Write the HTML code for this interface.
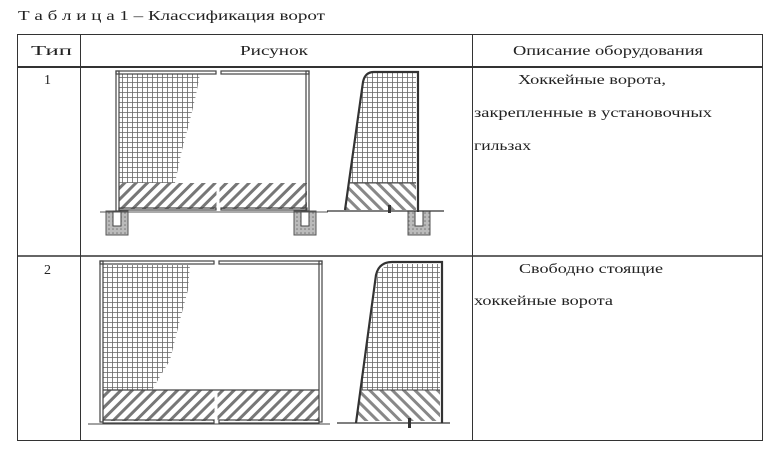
<!DOCTYPE html>
<html><head><meta charset="utf-8"><style>
html,body{margin:0;padding:0;background:#fff;width:773px;height:449px;overflow:hidden}
svg{display:block}
text{font-family:"Liberation Serif","Noto Serif CJK SC",serif;font-size:14px;fill:#222}
</style></head><body>
<svg width="773" height="449" viewBox="0 0 773 449" xmlns="http://www.w3.org/2000/svg">
<defs>
<pattern id="grid" width="5" height="5" patternUnits="userSpaceOnUse">
<rect width="5" height="5" fill="#fff"/>
<path d="M0 2.5H5M2.5 0V5" stroke="#666" stroke-width="0.8"/>
</pattern>
<pattern id="hatch" width="8" height="8" patternUnits="userSpaceOnUse" patternTransform="rotate(45)">
<rect width="8" height="8" fill="#fff"/>
<rect width="3" height="8" fill="#777"/>
</pattern>
<pattern id="hatch2" width="8" height="8" patternUnits="userSpaceOnUse" patternTransform="rotate(-45)">
<rect width="8" height="8" fill="#fff"/>
<rect width="3" height="8" fill="#888"/>
</pattern>
<pattern id="soil" width="4" height="4" patternUnits="userSpaceOnUse">
<rect width="4" height="4" fill="#bbb"/><circle cx="1" cy="1" r="0.8" fill="#777"/>
</pattern>
</defs>
<text x="18" y="20" textLength="307" lengthAdjust="spacingAndGlyphs">Т а б л и ц а  1 – Классификация ворот</text>
<!-- table -->
<g stroke="#333" fill="none">
<rect x="17.5" y="34.5" width="745" height="406" stroke-width="1"/>
<line x1="17" y1="67" x2="763" y2="67" stroke-width="2"/>
<line x1="17" y1="256" x2="763" y2="256" stroke-width="1.5"/>
<line x1="80.5" y1="34" x2="80.5" y2="441"/>
<line x1="472.5" y1="34" x2="472.5" y2="441"/>
</g>
<text x="31" y="55" textLength="41" lengthAdjust="spacingAndGlyphs">Тип</text>
<text x="240" y="55" textLength="68" lengthAdjust="spacingAndGlyphs">Рисунок</text>
<text x="513" y="55" textLength="190" lengthAdjust="spacingAndGlyphs">Описание оборудования</text>
<text x="44" y="84">1</text>
<text x="44" y="274">2</text>
<text x="518" y="84" textLength="148" lengthAdjust="spacingAndGlyphs">Хоккейные ворота,</text>
<text x="474" y="117" textLength="238" lengthAdjust="spacingAndGlyphs">закрепленные в установочных</text>
<text x="474" y="150" textLength="57" lengthAdjust="spacingAndGlyphs">гильзах</text>
<text x="519" y="273" textLength="144" lengthAdjust="spacingAndGlyphs">Свободно стоящие</text>
<text x="474" y="305" textLength="139" lengthAdjust="spacingAndGlyphs">хоккейные ворота</text>

<!-- Row 1 front goal -->
<polygon points="119,74 200,74 196,95 190,120 182,150 175,183 119,183" fill="url(#grid)"/>
<rect x="119" y="183" width="188" height="26" fill="url(#hatch)"/>
<line x1="218" y1="183" x2="218" y2="209" stroke="#fff" stroke-width="3"/>
<g stroke="#444" fill="none" stroke-width="1.2">
<rect x="116" y="71" width="3" height="140"/>
<rect x="306" y="71" width="3" height="140"/>
<rect x="116" y="71" width="100" height="3"/>
<rect x="221" y="71" width="88" height="3"/>
<rect x="119" y="208" width="97" height="2"/>
<rect x="221" y="208" width="86" height="2"/>
</g>
<g>
<rect x="106" y="211" width="22" height="24" fill="url(#soil)" stroke="#555"/>
<rect x="113" y="211" width="8" height="15" fill="#fff" stroke="#444"/>
<rect x="294" y="211" width="22" height="24" fill="url(#soil)" stroke="#555"/>
<rect x="301" y="211" width="8" height="15" fill="#fff" stroke="#444"/>
<rect x="408" y="211" width="22" height="24" fill="url(#soil)" stroke="#555"/>
<rect x="415" y="211" width="8" height="15" fill="#fff" stroke="#444"/>
</g>
<line x1="100" y1="212" x2="328" y2="212" stroke="#555" stroke-width="1"/>
<!-- Row 1 side -->
<polygon points="364,79 372,73 416,73 416,183 349,183" fill="url(#grid)"/>
<polygon points="349,183 416,183 416,210 345,210" fill="url(#hatch2)"/>
<path d="M345,210 L363,82 Q365,72 374,72 L418,72 L418,212" stroke="#333" stroke-width="2.2" fill="none"/>
<line x1="349" y1="183" x2="416" y2="183" stroke="#444"/>
<line x1="327" y1="211" x2="444" y2="211" stroke="#333" stroke-width="1.3"/>
<rect x="388" y="205" width="3" height="8" fill="#333"/>

<!-- Row 2 front goal -->
<polygon points="103,265 190,265 188,290 180,320 170,360 152,390 103,390" fill="url(#grid)"/>
<rect x="103" y="390" width="216" height="31" fill="url(#hatch)"/>
<line x1="216" y1="390" x2="216" y2="421" stroke="#fff" stroke-width="3"/>
<g stroke="#444" fill="none" stroke-width="1.2">
<rect x="100" y="261" width="3" height="161"/>
<rect x="319" y="261" width="3" height="161"/>
<rect x="100" y="261" width="114" height="3"/>
<rect x="219" y="261" width="103" height="3"/>
<rect x="103" y="420" width="111" height="3"/>
<rect x="219" y="420" width="100" height="3"/>
<line x1="103" y1="390" x2="319" y2="390"/>
</g>
<line x1="88" y1="424" x2="330" y2="424" stroke="#444"/>
<!-- Row 2 side -->
<polygon points="378,272 388,264 440,264 440,390 361,390" fill="url(#grid)"/>
<polygon points="361,390 440,390 440,421 356,421" fill="url(#hatch2)"/>
<path d="M356,423 L376,275 Q379,262 392,262 L442,262 L442,423" stroke="#333" stroke-width="2.2" fill="none"/>
<line x1="361" y1="390" x2="440" y2="390" stroke="#444"/>
<line x1="337" y1="423" x2="450" y2="423" stroke="#333" stroke-width="1.3"/>
<rect x="408" y="418" width="3" height="10" fill="#333"/>
</svg>
</body></html>
